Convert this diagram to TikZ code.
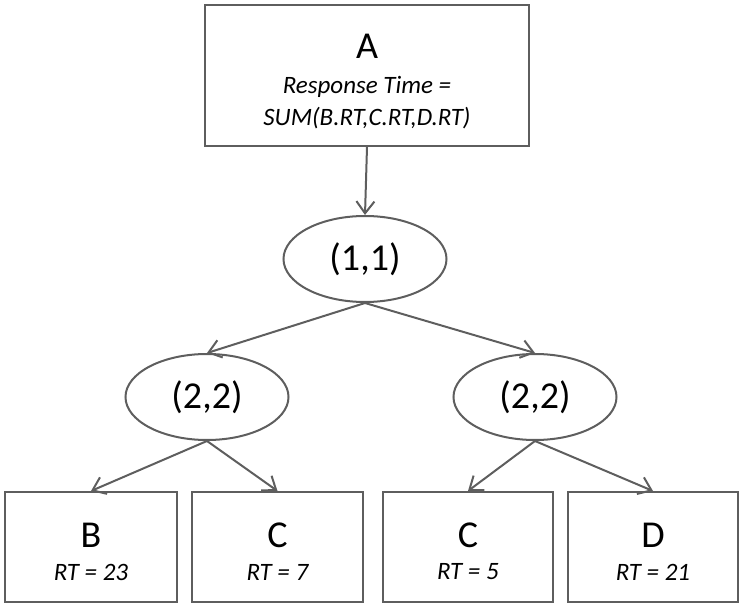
\documentclass[tikz,border=0pt]{standalone}
\usepackage{fontspec}
\setmainfont{Carlito}
\usetikzlibrary{shapes.geometric,arrows.meta}
\definecolor{edgegray}{HTML}{5E5E5E}
\tikzset{
  box/.style={draw=edgegray, line width=2pt, rectangle, inner sep=0pt},
  pair/.style={draw=edgegray, line width=2pt, ellipse, inner sep=0pt,
    minimum width=163pt, minimum height=86pt, font=\fontsize{38}{40}\selectfont},
  big/.style={inner sep=0pt, font=\fontsize{38}{40}\selectfont},
  small/.style={inner sep=0pt, font=\fontsize{25}{30}\selectfont\itshape},
  link/.style={draw=edgegray, line width=2pt, -{Straight Barb[length=12pt,width=18pt]}}
}
\begin{document}
\begin{tikzpicture}[x=1pt,y=1pt]
    \useasboundingbox (0,0) rectangle (740,-604);
    % root box
    \node[box, minimum width=324pt, minimum height=141pt] (A) at (367,-75.5) {};
    \node[big] (Alabel) at (367,-46) {A};
    \node[small] (Aresp) at (367,-87) {Response Time =};
    \node[small] (Asum) at (367,-118) {SUM(B.RT,C.RT,D.RT)};
    % pairs
    \node[pair] (p11) at (365,-259) {(1,1)};
    \node[pair] (p22l) at (207,-397) {(2,2)};
    \node[pair] (p22r) at (535,-397) {(2,2)};
    % leaves
    \node[box, minimum width=172pt, minimum height=110pt] (B) at (91,-547) {};
    \node[box, minimum width=171pt, minimum height=110pt] (C) at (277.5,-547) {};
    \node[box, minimum width=170pt, minimum height=110pt] (Ctwo) at (468,-547) {};
    \node[box, minimum width=170pt, minimum height=110pt] (D) at (653,-547) {};
    \node[big] (Blabel) at (91,-535) {B};
    \node[small] (Brt) at (91,-572) {RT = 23};
    \node[big] (Clabel) at (277.5,-535) {C};
    \node[small] (Crt) at (277.5,-572) {RT = 7};
    \node[big] (Ctwolabel) at (468,-535) {C};
    \node[small] (Ctwort) at (468,-572) {RT = 5};
    \node[big] (Dlabel) at (653,-535) {D};
    \node[small] (Drt) at (653,-572) {RT = 21};
    % edges
    \draw[link] (A.south) -- (p11.north);
    \draw[link] (p11.south) -- (p22l.north);
    \draw[link] (p11.south) -- (p22r.north);
    \draw[link] (p22l.south) -- (B.north);
    \draw[link] (p22l.south) -- (C.north);
    \draw[link] (p22r.south) -- (Ctwo.north);
    \draw[link] (p22r.south) -- (D.north);
\end{tikzpicture}
\end{document}
